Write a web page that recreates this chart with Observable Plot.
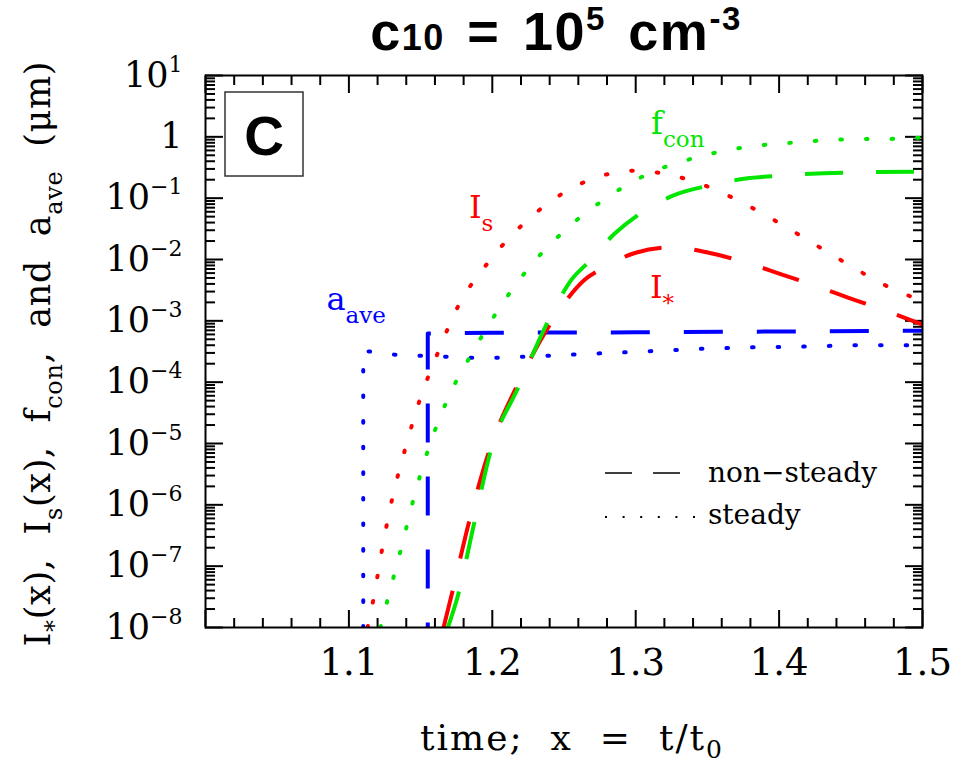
<!DOCTYPE html>
<html>
<head>
<meta charset="utf-8">
<script src="https://cdn.jsdelivr.net/npm/d3@7"></script>
<script src="https://cdn.jsdelivr.net/npm/@observablehq/plot@0.6"></script>
<style>
  body { margin: 0; background: #fff; }
  #chart svg { display: block; }
</style>
</head>
<body>
<div id="chart"></div>
<script>
// Time in units of t0
const xSteadyIs   = [1.113, 1.117, 1.123, 1.130, 1.139, 1.149, 1.162, 1.176, 1.196, 1.220, 1.248, 1.280, 1.298, 1.316, 1.350, 1.382, 1.413, 1.444, 1.474, 1.500];
const steadyIs    = [1e-8, 2.8e-8, 1.8e-7, 1.2e-6, 7.8e-6, 4.8e-5, 3.0e-4, 1.7e-3, 8.3e-3, 3.5e-2, 0.115, 0.245, 0.28, 0.26, 0.155, 0.068, 0.026, 9.5e-3, 3.8e-3, 2.1e-3];

const xSteadyFcon = [1.122, 1.128, 1.137, 1.146, 1.156, 1.169, 1.186, 1.194, 1.225, 1.250, 1.278, 1.308, 1.342, 1.377, 1.411, 1.448, 1.483, 1.500];
const steadyFcon  = [1e-8, 3.5e-8, 2.2e-7, 1.5e-6, 8.9e-6, 5.4e-5, 3.0e-4, 6.3e-4, 7.1e-3, 2.9e-2, 9.5e-2, 0.245, 0.46, 0.68, 0.81, 0.91, 0.93, 0.98];

const xNonFcon    = [1.169, 1.176, 1.187, 1.199, 1.218, 1.239, 1.255, 1.268, 1.285, 1.305, 1.326, 1.352, 1.377, 1.402, 1.453, 1.500];
const nonFcon     = [1e-8, 3.3e-8, 4.6e-7, 7.8e-6, 8.1e-5, 1.0e-3, 4.6e-3, 9.5e-3, 2.6e-2, 6.0e-2, 0.11, 0.162, 0.209, 0.234, 0.263, 0.269];

const xNonIstar   = [1.166, 1.172, 1.184, 1.198, 1.218, 1.243, 1.264, 1.278, 1.300, 1.326, 1.351, 1.377, 1.400, 1.424, 1.448, 1.473, 1.500];
const nonIstar    = [1e-8, 3.7e-8, 5.5e-7, 7.8e-6, 9.5e-5, 1.1e-3, 4.6e-3, 7.4e-3, 1.29e-2, 1.58e-2, 1.29e-2, 8.9e-3, 5.9e-3, 3.8e-3, 2.4e-3, 1.5e-3, 8.7e-4];

// average grain radius (µm)
const xSteadyAave = [1.110, 1.110, 1.115, 1.132, 1.150, 1.168, 1.186, 1.204, 1.239, 1.275, 1.310, 1.346, 1.382, 1.417, 1.452, 1.488, 1.500];
const steadyAave  = [1e-8, 3.2e-4, 3.15e-4, 2.8e-4, 2.7e-4, 2.6e-4, 2.5e-4, 2.5e-4, 2.7e-4, 2.95e-4, 3.2e-4, 3.5e-4, 3.7e-4, 3.8e-4, 4.0e-4, 4.0e-4, 4.0e-4];

const xNonAave    = [1.155, 1.155, 1.200, 1.300, 1.400, 1.500];
const nonAave     = [1e-8, 6.2e-4, 6.4e-4, 6.5e-4, 6.7e-4, 6.9e-4];

// curve annotations: main symbol + subscript, placed in data coordinates
const curveLabels = [
  {main: "I", sub: "s",   x: 1.1925, y: 0.047,  color: "#ff0000"},
  {main: "f", sub: "con", x: 1.319,  y: 1.13,   color: "#00e600"},
  {main: "I", sub: "*",   x: 1.3187, y: 2.4e-3, color: "#ff0000"},
  {main: "a", sub: "ave", x: 1.0976, y: 1.53e-3, color: "#0000ff"}
];

// axis ticks and labels
const xMajor = [1.0, 1.1, 1.2, 1.3, 1.4, 1.5];
const xLabelTicks = [1.1, 1.2, 1.3, 1.4, 1.5];
const xTickLabels = ["1.1", "1.2", "1.3", "1.4", "1.5"];
const yMajor = [1e1, 1e0, 1e-1, 1e-2, 1e-3, 1e-4, 1e-5, 1e-6, 1e-7, 1e-8];
const yTickLabels = ["10^1", "1", "10^\u22121", "10^\u22122", "10^\u22123", "10^\u22124", "10^\u22125", "10^\u22126", "10^\u22127", "10^\u22128"];

const xMinor = d3.range(1, 26).map(i => 1 + i * 0.02).filter(v => Math.abs(v * 10 - Math.round(v * 10)) > 1e-6);
const yMinor = d3.range(-8, 1).flatMap(e => d3.range(2, 10).map(k => k * Math.pow(10, e)));

const RED = "#ff0000", GREEN = "#00e600", BLUE = "#0000ff";
const SERIF = "DejaVu Serif";
const SANS = "Liberation Sans";
const DOT = "1.6,24";
const DASH = "38,33";

const toRows = (xs, ys) => xs.map((x, i) => ({x, y: ys[i]}));
const yLabelOf = new Map(yMajor.map((v, i) => [v, yTickLabels[i]]));
const xLabelOf = new Map(xLabelTicks.map((v, i) => [v, xTickLabels[i]]));

const lineOpts = (stroke, dash, extra = {}) => ({
  x: "x", y: "y", stroke, strokeWidth: 4, strokeDasharray: dash,
  strokeLinecap: "round", curve: "monotone-x", clip: true, ...extra
});
// a_ave has a vertical onset, so it is drawn with straight segments
const stepOpts = (stroke, dash, extra = {}) => ({
  x: "x", y: "y", stroke, strokeWidth: 4, strokeDasharray: dash,
  strokeLinecap: "round", curve: "linear", clip: true, ...extra
});

// inward-pointing ticks on all four sides
const inTicksX = (anchor, ticks, size) =>
  Plot.axisX({anchor, ticks, tickSize: -size, tickFormat: () => "", label: null, strokeWidth: 2});
const inTicksY = (anchor, ticks, size) =>
  Plot.axisY({anchor, ticks, tickSize: -size, tickFormat: () => "", label: null, strokeWidth: 2});

const chart = Plot.plot({
  width: 953,
  height: 766,
  marginLeft: 205,
  marginRight: 31,
  marginTop: 75,
  marginBottom: 139,
  style: {fontFamily: SERIF, background: "#fff", color: "#000"},
  x: {domain: [1.0, 1.5]},
  y: {type: "log", domain: [1e-8, 10]},
  marks: [
    inTicksX("bottom", xMajor, 17), inTicksX("bottom", xMinor, 9),
    inTicksX("top", xMajor, 17), inTicksX("top", xMinor, 9),
    inTicksY("left", yMajor, 18), inTicksY("left", yMinor, 10),
    inTicksY("right", yMajor, 18), inTicksY("right", yMinor, 10),
    Plot.axisX({anchor: "bottom", ticks: xLabelTicks, tickSize: 0, tickPadding: 21,
      tickFormat: d => xLabelOf.get(d), fontSize: 37, fontFamily: SERIF, label: null}),
    Plot.axisY({anchor: "left", ticks: yMajor, tickSize: 0, tickPadding: 23,
      tickFormat: d => yLabelOf.get(d), fontSize: 35, fontFamily: SERIF, label: null}),

    Plot.line(toRows(xSteadyAave, steadyAave), stepOpts(BLUE, DOT)),
    Plot.line(toRows(xNonAave, nonAave), stepOpts(BLUE, "39,34", {strokeDashoffset: 34, strokeLinecap: "butt"})),
    Plot.line(toRows(xSteadyIs, steadyIs), lineOpts(RED, DOT)),
    Plot.line(toRows(xSteadyFcon, steadyFcon), lineOpts(GREEN, DOT)),
    Plot.line(toRows(xNonIstar, nonIstar), lineOpts(RED, DASH, {strokeLinecap: "butt"})),
    Plot.line(toRows(xNonFcon, nonFcon), lineOpts(GREEN, DASH, {strokeLinecap: "butt"})),

    Plot.text(curveLabels, {x: "x", y: "y", text: "main", fill: "color", fontSize: 32,
      textAnchor: "end", lineAnchor: "bottom", fontFamily: SERIF}),
    Plot.text(curveLabels, {x: "x", y: "y", text: "sub", fill: "color", fontSize: 23,
      textAnchor: "start", lineAnchor: "bottom", dy: 13, fontFamily: SERIF}),

    Plot.frame({stroke: "#000", strokeWidth: 2})
  ]
});

const svg = d3.select(chart).attr("font-family", SERIF);

// superscript exponents in the y tick labels
svg.selectAll("text").each(function () {
  const t = this.textContent;
  if (!t.includes("^")) return;
  const [base, exp] = t.split("^");
  const sel = d3.select(this);
  sel.text(null);
  sel.append("tspan").text(base);
  sel.append("tspan").attr("dy", -15).attr("font-size", 22).text(exp);
});

// "C" panel tag
svg.append("rect").attr("x", 225).attr("y", 92).attr("width", 78).attr("height", 84)
  .attr("fill", "#fff").attr("stroke", "#333").attr("stroke-width", 1.5);
svg.append("text").attr("x", 264).attr("y", 155).attr("text-anchor", "middle")
  .attr("font-family", SANS).attr("font-weight", "bold")
  .attr("font-size", 55).text("C");

// title
const title = svg.append("text").attr("x", 556).attr("y", 50).attr("text-anchor", "middle")
  .attr("font-family", SANS).attr("font-weight", "bold")
  .attr("font-size", 54).attr("fill", "#000")
  .attr("word-spacing", 6).attr("letter-spacing", 1.5);
title.append("tspan").text("c");
title.append("tspan").attr("font-size", 36).text("10");
title.append("tspan").text(" = 10");
title.append("tspan").attr("font-size", 33).attr("dy", -20).text("5");
title.append("tspan").attr("dy", 20).text(" cm");
title.append("tspan").attr("font-size", 33).attr("dy", -20).text("-3");

// y-axis title (rotated, with subscripts)
const ytitle = svg.append("text")
  .attr("transform", "translate(50,354) rotate(-90)")
  .attr("text-anchor", "middle").attr("font-family", SERIF).attr("font-size", 35).attr("fill", "#000")
  .attr("textLength", 585).attr("lengthAdjust", "spacing");
const ySegs = [["I", 0], ["*", 1], ["(x),  I", 0], ["s", 1], ["(x),  f", 0], ["con", 1], [",  and  a", 0], ["ave", 1], ["  (\u03bcm)", 0]];
let shifted = false;
ySegs.forEach(([s, isSub]) => {
  const ts = ytitle.append("tspan").text(s);
  if (isSub) { ts.attr("font-size", 24).attr("dy", 12); shifted = true; }
  else if (shifted) { ts.attr("dy", -12); shifted = false; }
});

// x-axis title
const xtitle = svg.append("text").attr("x", 571).attr("y", 750).attr("text-anchor", "middle")
  .attr("font-family", SERIF).attr("font-size", 36).attr("fill", "#000")
  .attr("textLength", 302).attr("lengthAdjust", "spacing");
xtitle.append("tspan").text("time;  x  =  t/t");
xtitle.append("tspan").attr("font-size", 25).attr("dy", 8).text("0");

// legend for line styles
const leg = svg.append("g").attr("font-family", SERIF).attr("font-size", 28).attr("fill", "#000")
  .attr("text-anchor", "start");
leg.append("path").attr("d", "M605,473H680").attr("stroke", "#000").attr("stroke-width", 1.6)
  .attr("stroke-dasharray", "27,21").attr("fill", "none");
leg.append("text").attr("x", 708).attr("y", 482).text("non\u2212steady");
leg.append("path").attr("d", "M605,517H696").attr("stroke", "#000").attr("stroke-width", 1.8)
  .attr("stroke-dasharray", "2,15.6").attr("fill", "none");
leg.append("text").attr("x", 708).attr("y", 524).text("steady");

document.getElementById("chart").appendChild(chart);
</script>
</body>
</html>
